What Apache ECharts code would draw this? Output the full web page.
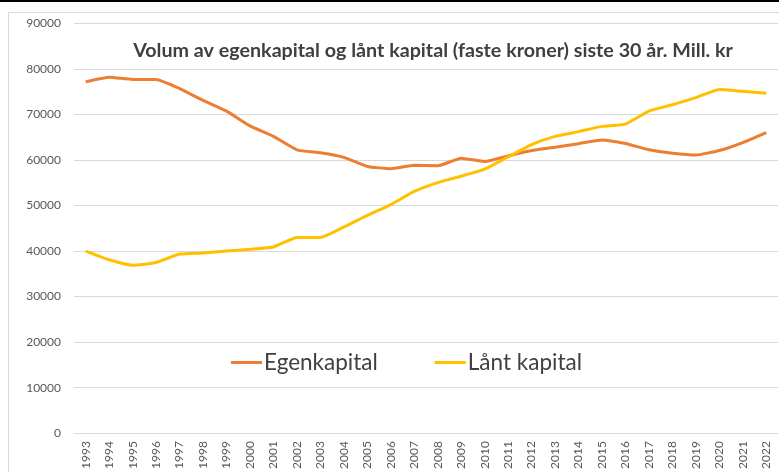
<!DOCTYPE html>
<html>
<head>
<meta charset="utf-8">
<script src="https://cdn.jsdelivr.net/npm/echarts@6/dist/echarts.min.js"></script>
<style>
  html, body { margin: 0; padding: 0; background: #fff; }
  #chart { width: 779px; height: 472px; }
</style>
</head>
<body>
<div id="chart"></div>
<script>
const years = ['1993', '1994', '1995', '1996', '1997', '1998', '1999', '2000', '2001', '2002',
  '2003', '2004', '2005', '2006', '2007', '2008', '2009', '2010', '2011', '2012',
  '2013', '2014', '2015', '2016', '2017', '2018', '2019', '2020', '2021', '2022']

const egenkapital = [77200, 78200, 77700, 77700, 75700, 73100, 70750, 67500, 65200, 62250,
  61600, 60600, 58600, 58100, 58850, 58750, 60400, 59700, 60900, 62100,
  62800, 63600, 64400, 63650, 62250, 61500, 61100, 62100, 63850, 66050]

const lantKapital = [40000, 38100, 36900, 37500, 39350, 39600, 40000, 40400, 40900, 43000,
  43000, 45300, 47850, 50200, 53100, 55050, 56450, 58000, 60700, 63400,
  65200, 66250, 67400, 67900, 70750, 72150, 73700, 75500, 75100, 74700]

const chart = echarts.init(document.getElementById('chart'))
const font = 'Lato, "Open Sans", sans-serif'

const option = {
  animation: false,
  textStyle: { fontFamily: font },
  title: {
    text: 'Volum av egenkapital og lånt kapital (faste kroner) siste 30 år. Mill. kr',
    left: 428,
    top: 36,
    textAlign: 'center',
    textStyle: { fontFamily: font, fontSize: 19.7, fontWeight: 'bold', color: '#404040' }
  },
  legend: {
    left: 226,
    top: 346,
    icon: 'rect',
    itemWidth: 31,
    itemHeight: 3,
    itemGap: 57,
    textStyle: { fontFamily: font, fontSize: 22.5, color: '#404040', padding: [0, 0, 0, -3] },
    data: ['Egenkapital', 'Lånt kapital']
  },
  grid: { left: 74, right: 1, top: 23.5, bottom: 36 },
  xAxis: {
    type: 'category',
    data: years,
    boundaryGap: true,
    axisLine: { lineStyle: { color: '#d9d9d9' } },
    axisTick: { show: false },
    axisLabel: { rotate: 90, interval: 0, fontSize: 12, color: '#595959', margin: 8 }
  },
  yAxis: {
    type: 'value',
    min: 0,
    max: 90000,
    interval: 10000,
    axisLine: { show: false },
    axisTick: { show: false },
    axisLabel: { fontSize: 12, color: '#595959', margin: 13, formatter: v => String(v) },
    splitLine: { lineStyle: { color: '#d9d9d9', width: 1 } }
  },
  series: [
    {
      name: 'Egenkapital',
      type: 'line',
      data: egenkapital,
      symbol: 'none',
      smooth: 0.15,
      lineStyle: { color: '#ED7D31', width: 3 },
      itemStyle: { color: '#ED7D31' }
    },
    {
      name: 'Lånt kapital',
      type: 'line',
      data: lantKapital,
      symbol: 'none',
      smooth: 0.15,
      lineStyle: { color: '#FFC000', width: 3 },
      itemStyle: { color: '#FFC000' }
    }
  ],
  graphic: [
    { type: 'rect', shape: { x: 0, y: 0, width: 779, height: 2 }, style: { fill: '#000' } },
    {
      type: 'rect', silent: true,
      shape: { x: 8.5, y: 12.5, width: 800, height: 500 },
      style: { fill: 'none', stroke: '#d9d9d9', lineWidth: 1 }
    }
  ]
}

chart.setOption(option)
</script>
</body>
</html>
